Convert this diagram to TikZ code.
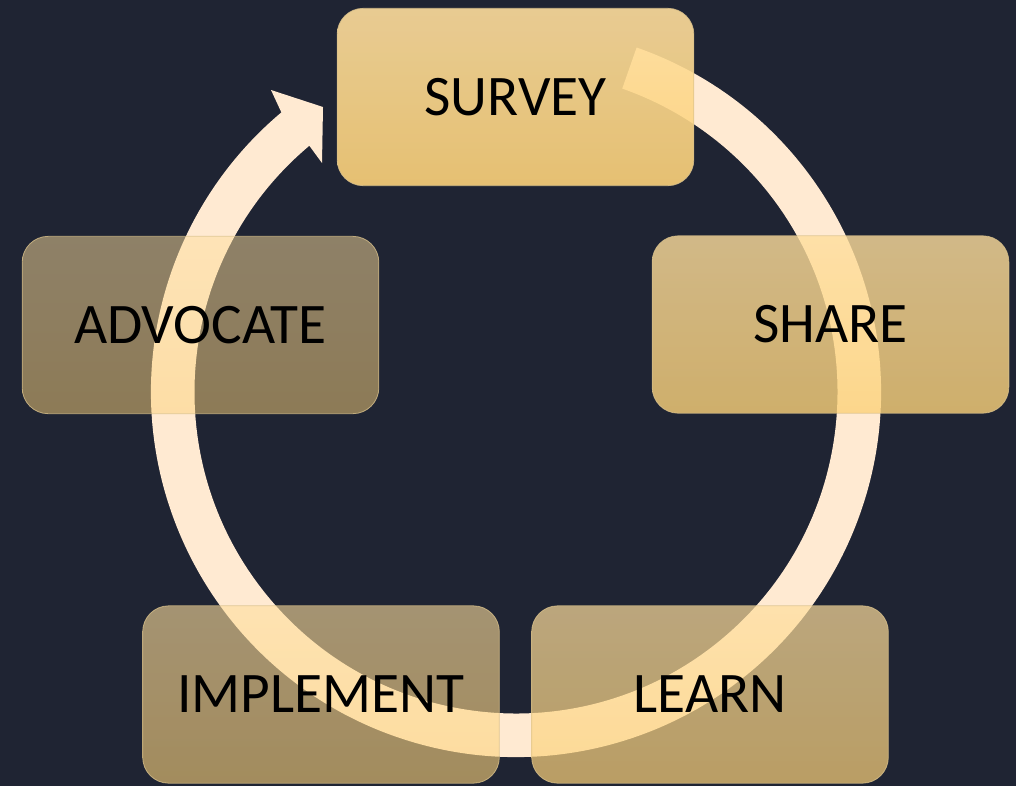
\documentclass[tikz,border=0pt]{standalone}
\usepackage{fontspec}
\setmainfont{Carlito}
\usetikzlibrary{calc}
\definecolor{bgc}{HTML}{1F2433}
\definecolor{ringc}{HTML}{FFEAD2}
\definecolor{boxtop}{HTML}{FEDE9D}
\definecolor{boxbot}{HTML}{FCD27A}
\definecolor{boxline}{HTML}{D8C08A}
\tikzset{
  stagebox/.style={rectangle, rounded corners=19.5pt,
    minimum width=267.5pt, minimum height=133pt,
    top color=boxtop, bottom color=boxbot,
    draw=boxline, draw opacity=0.8, line width=0.6pt,
    text=black, text opacity=1,
    font=\fontsize{43}{50}\selectfont, inner sep=0pt},
  ringfill/.style={fill=ringc}
}
\begin{document}
\begin{tikzpicture}[x=0.75pt,y=-0.75pt]
\fill[bgc] (0,0) rectangle (1016,786);
\useasboundingbox (0,0) rectangle (1016,786);
\coordinate (c) at (516,392);
% cycle ring with arrow head
\fill[ringfill] (c) ++(-70.7:365) arc[start angle=-70.7, end angle=230, radius=365]
  -- (271,90) -- (323,107) -- (322,163)
  -- ($(c)+(230:321.5)$) arc[start angle=230, end angle=-70.7, radius=321.5] -- cycle;
% stages
\node[stagebox, fill opacity=0.9] (survey) at (515.5,97) {SURVEY};
\node[stagebox, fill opacity=0.8] (share) at (830.5,324.5) {SHARE};
\node[stagebox, fill opacity=0.7] (learn) at (710,694.5) {LEARN};
\node[stagebox, fill opacity=0.6] (implement) at (321,694.5) {IMPLEMENT};
\node[stagebox, fill opacity=0.5] (advocate) at (200.5,325) {ADVOCATE};
\end{tikzpicture}
\end{document}
